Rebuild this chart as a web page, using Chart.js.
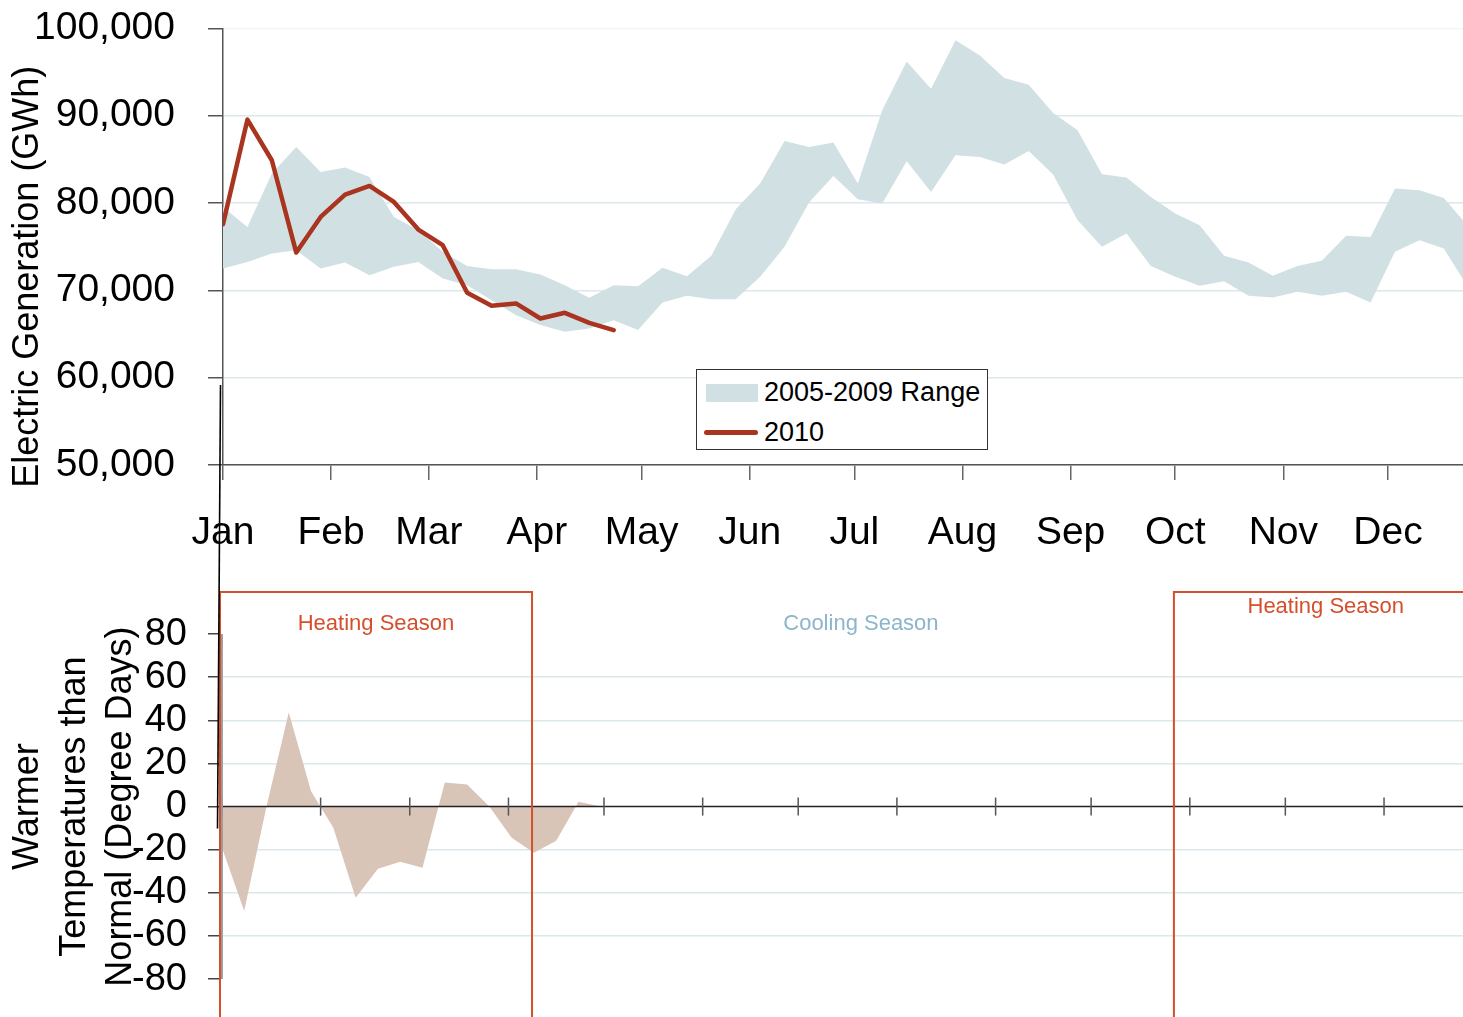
<!DOCTYPE html>
<html>
<head>
<meta charset="utf-8">
<script src="https://cdn.jsdelivr.net/npm/chart.js@4.4.1/dist/chart.umd.min.js"></script>
<style>
  html, body { margin:0; padding:0; background:#fff; overflow:hidden; width:1463px; height:1017px; }
  #top { position:absolute; left:0; top:-28px; }
  #bot { position:absolute; left:0; top:370px; }
  #legend { position:absolute; left:696px; top:369px; width:290px; height:79px; border:1.5px solid #333;
            background:#fff; font-family:'Liberation Sans', Arial, sans-serif; font-size:27px; color:#000; }
  #legend .sw { position:absolute; }
  #legend .tx { position:absolute; left:67px; line-height:27px; white-space:nowrap; }
</style>
</head>
<body>
<canvas id="top" width="1463" height="618"></canvas>
<canvas id="bot" width="1463" height="696"></canvas>
<div id="legend">
  <span class="sw" id="swBand" style="left:9px; top:14px; width:52px; height:18px;"></span>
  <span class="tx" id="txBand" style="top:9px;"></span>
  <span class="sw" id="swLine" style="left:7px; top:60px; width:54px; height:5px; border-radius:3px;"></span>
  <span class="tx" id="txLine" style="top:49px;"></span>
</div>
<script>
// ---------------- data ----------------
const months = ['Jan','Feb','Mar','Apr','May','Jun','Jul','Aug','Sep','Oct','Nov','Dec'];
const monthStartDay = [0,31,59,90,120,151,181,212,243,273,304,334];
const bottomTickDay = [0,31,59,90,120,151,181,212,243,273,304,334,365];

const rangeLabel = '2005-2009 Range';
const lineLabel = '2010';

// weekly 2005-2009 range (GWh)
const rangeHigh = [79550,77270,83370,86420,83560,84060,82990,78410,76890,74410,72800,72430,72430,71820,70590,69140,70590,70480,
  72580,71620,73950,79290,82230,87110,86420,86920,82230,90620,96220,93100,98630,96910,94320,93560,90300,88330,
  83300,82920,80700,78790,77460,73950,73190,71660,72800,73380,76240,76120,81660,81460,80580,77350];
const rangeLow = [72500,73260,74220,74600,72500,73190,71740,72690,73260,71360,70590,68880,67160,66020,65250,65640,66590,65450,
  68620,69370,68990,68990,71550,74980,80060,83100,80430,79940,84780,81270,85470,85270,84400,85960,83280,78030,
  74980,76510,72800,71550,70520,71050,69370,69190,69830,69370,69830,68620,74410,75740,74790,70310];
// weekly 2010 generation (GWh)
const gen2010 = [77570,89550,84900,74330,78410,80970,81960,80130,76960,75170,69720,68230,68500,66780,67430,66280,65450];

// weekly 2010 degree days vs normal (positive = warmer)
const degreeDays = [-19,-48.4,0,43.7,7.1,-9.8,-42.3,-28.8,-25.6,-28.4,11.2,10.2,0,-14.4,-21.4,-15.8,2.3,0];
const ddTicks = [-80,-60,-40,-20,0,20,40,60,80];

// seasons (day of year)
const seasons = [
  { name:'Heating Season', from:-0.6, to:97.4, box:true,  labelAt:84.5 },
  { name:'Cooling Season', from:97.4, to:304,  box:false, labelAt:84.5 },
  { name:'Heating Season', from:299,  to:394.4, box:true, labelAt:92.5 }
];

// ---------------- style ----------------
const FONT = "'Liberation Sans', Arial, sans-serif";
const BAND = '#d1e1e3';
const LINE = '#a9341f';
const DD_FILL = '#d9c4b8';
const HEAT = '#d44f2b';
const COOL = '#8cb5cb';
const GRID = '#dce8eb';

const toPts = (arr) => arr.map((v, i) => ({ x: i * 7, y: v }));

// legend (HTML)
document.getElementById('swBand').style.background = BAND;
document.getElementById('swLine').style.background = LINE;
document.getElementById('txBand').textContent = rangeLabel;
document.getElementById('txLine').textContent = lineLabel;

// ---------------- top chart ----------------
new Chart(document.getElementById('top'), {
  type: 'line',
  data: {
    datasets: [
      { label: lineLabel, data: toPts(gen2010), borderColor: LINE, borderWidth: 4.5, pointRadius: 0,
        fill: false, order: 0, borderJoinStyle: 'round', borderCapStyle: 'round' },
      { label: rangeLabel, data: toPts(rangeHigh), borderColor: 'transparent', borderWidth: 0, pointRadius: 0,
        fill: '+1', backgroundColor: BAND, order: 1 },
      { label: rangeLabel + ' low', data: toPts(rangeLow), borderColor: 'transparent', borderWidth: 0, pointRadius: 0,
        fill: false, order: 2 }
    ]
  },
  options: {
    responsive: false, animation: false,
    layout: { padding: { top: 1, left: 0, right: 0, bottom: 0 } },
    plugins: { legend: { display: false }, tooltip: { enabled: false } },
    scales: {
      x: {
        type: 'linear', min: 0, max: 355.5,
        afterBuildTicks: (s) => { s.ticks = monthStartDay.map(v => ({ value: v })); },
        afterFit: (s) => { s.height = 125; },
        ticks: { autoSkip: false, maxRotation: 0, padding: 30, color: '#000',
                 font: { family: FONT, size: 39 }, callback: (v, i) => months[i] },
        grid: { drawOnChartArea: false, tickLength: 15, color: '#666', lineWidth: 1.5 },
        border: { color: '#555', width: 1.5 }
      },
      y: {
        min: 50000, max: 100000,
        afterFit: (s) => { s.width = 223; },
        ticks: { stepSize: 10000, padding: 33, color: '#000', font: { family: FONT, size: 39 },
                 callback: (v) => v.toLocaleString('en-US') },
        grid: { color: (c) => c.tick && c.tick.value === 100000 ? '#f1f6f7' : GRID,
                tickColor: '#555', tickLength: 15, lineWidth: 1.5 },
        border: { color: '#555', width: 1.5 },
        title: { display: true, text: 'Electric Generation (GWh)      ', color: '#000',
                 font: { family: FONT, size: 36 }, padding: { top: 6, bottom: 0 } }
      }
    }
  }
});

// ---------------- bottom chart ----------------
const bottomDecor = {
  id: 'bottomDecor',
  afterDatasetsDraw(chart) {
    const { ctx, chartArea: a, scales: { x, y } } = chart;
    const y0 = y.getPixelForValue(0);
    ctx.save();
    // zero axis line
    ctx.strokeStyle = '#222'; ctx.lineWidth = 1.5;
    ctx.beginPath(); ctx.moveTo(a.left, y0); ctx.lineTo(a.right, y0); ctx.stroke();
    // cross ticks at month starts
    ctx.strokeStyle = '#555';
    bottomTickDay.forEach(d => {
      const px = x.getPixelForValue(d);
      ctx.beginPath(); ctx.moveTo(px, y0 - 9); ctx.lineTo(px, y0 + 9); ctx.stroke();
    });
    // y axis line (80 to -80)
    ctx.strokeStyle = '#9a9a9a'; ctx.lineWidth = 2;
    const ax = x.getPixelForValue(0);
    ctx.beginPath(); ctx.moveTo(ax, y.getPixelForValue(80)); ctx.lineTo(ax, y.getPixelForValue(-80)); ctx.stroke();
    // season boxes and labels
    ctx.font = '22px ' + FONT; ctx.textAlign = 'center'; ctx.textBaseline = 'middle';
    seasons.forEach(s => {
      const l = x.getPixelForValue(s.from), r = x.getPixelForValue(s.to);
      if (s.box) {
        ctx.strokeStyle = HEAT; ctx.lineWidth = 2;
        ctx.strokeRect(l, a.top + 1, r - l, a.bottom + 20 - a.top);
      }
      ctx.fillStyle = s.box ? HEAT : COOL;
      ctx.fillText(s.name, (l + r) / 2, y.getPixelForValue(s.labelAt));
    });
    // stray axis stroke
    ctx.strokeStyle = '#000'; ctx.lineWidth = 1.6;
    ctx.beginPath(); ctx.moveTo(a.left + 0.5, a.top - 206); ctx.lineTo(a.left - 2.5, y0 + 22); ctx.stroke();
    ctx.restore();
  }
};

new Chart(document.getElementById('bot'), {
  type: 'line',
  data: {
    datasets: [
      { label: 'Degree days', data: toPts(degreeDays), borderColor: 'transparent', borderWidth: 0,
        pointRadius: 0, fill: 'origin', backgroundColor: DD_FILL }
    ]
  },
  options: {
    responsive: false, animation: false,
    layout: { padding: { top: 221, left: 0, right: 0, bottom: 1 } },
    plugins: { legend: { display: false }, tooltip: { enabled: false } },
    scales: {
      x: { type: 'linear', display: false, min: -0.6, max: 389.8 },
      y: {
        min: -100, max: 100,
        afterBuildTicks: (s) => { s.ticks = ddTicks.map(v => ({ value: v })); },
        afterFit: (s) => { s.width = 220; },
        ticks: { padding: 21, color: '#000', font: { family: FONT, size: 38 } },
        grid: { color: (c) => (c.tick && (Math.abs(c.tick.value) === 80 || c.tick.value === 0)) ? 'rgba(0,0,0,0)' : GRID,
                tickColor: '#444', tickLength: 12, lineWidth: 1.5 },
        border: { display: false },
        title: { display: true, text: ['Warmer', 'Temperatures than', 'Normal (Degree Days)'], color: '#000',
                 font: { family: FONT, size: 36, lineHeight: 1.29 }, padding: { top: 5, bottom: 0 } }
      }
    }
  },
  plugins: [bottomDecor]
});
</script>
</body>
</html>
